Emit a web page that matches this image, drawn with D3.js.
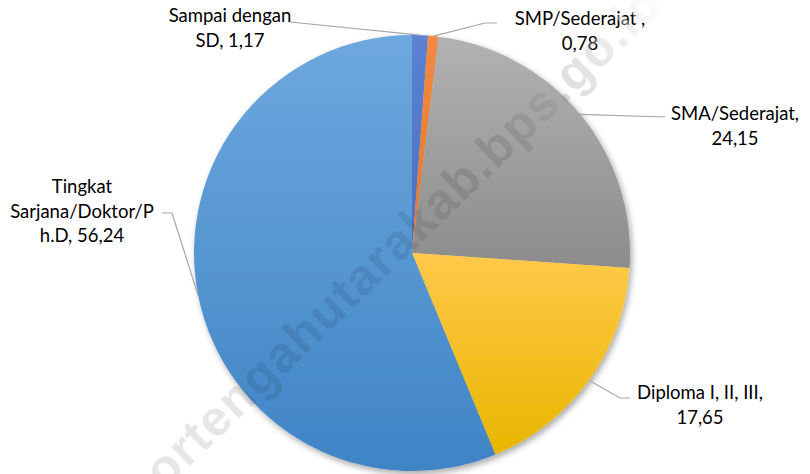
<!DOCTYPE html>
<html>
<head>
<meta charset="utf-8">
<script src="https://cdn.jsdelivr.net/npm/d3@7"></script>
<style>
  body { margin: 0; background: #fff; }
</style>
</head>
<body>
<script>
const width = 810;
const height = 474;

// data
const categories = ["Sampai dengan SD", "SMP/Sederajat", "SMA/Sederajat", "Diploma I, II, III", "Tingkat Sarjana/Doktor/Ph.D"];
const values = [1.17, 0.78, 24.15, 17.65, 56.24];
const labelLines = [
  ["Sampai dengan", "SD, "],
  ["SMP/Sederajat ,", ""],
  ["SMA/Sederajat,", ""],
  ["Diploma I, II, III,", ""],
  ["Tingkat", "Sarjana/Doktor/P", "h.D, "]
];
const colorsTop = ["#5b82d2", "#f28a44", "#b2b2b2", "#ffc94a", "#6ea8de"];
const colorsBottom = ["#4a70c0", "#e57526", "#8c8c8c", "#e8b600", "#3f84c5"];

// label layout: text centre x, first baseline y, elbow point, end of horizontal
const labelPos = [
  { x: 230, y: 22, elbow: [290, 22], end: [290, 22] },
  { x: 580, y: 25, elbow: [485, 23], end: [497, 23] },
  { x: 735, y: 120, elbow: [665, 117], end: [665, 117] },
  { x: 700, y: 399, elbow: [620, 398], end: [630, 398] },
  { x: 82, y: 193, elbow: [172, 213], end: [162, 213] }
];

const cx = 412, cy = 253, r = 218;
const lineGap = 24.5;
const fmt = (v) => v.toFixed(2).replace(".", ",");

const svg = d3.select("body").append("svg")
  .attr("width", width)
  .attr("height", height)
  .style("font-family", "Lato, 'Open Sans', sans-serif");

const defs = svg.append("defs");

categories.forEach((c, i) => {
  const g = defs.append("linearGradient")
    .attr("id", "grad" + i)
    .attr("x1", 0).attr("y1", 0).attr("x2", 0).attr("y2", 1);
  g.append("stop").attr("offset", "0%").attr("stop-color", colorsTop[i]);
  g.append("stop").attr("offset", "100%").attr("stop-color", colorsBottom[i]);
});

const shadow = defs.append("filter").attr("id", "shadow")
  .attr("x", "-10%").attr("y", "-10%").attr("width", "120%").attr("height", "120%");
shadow.append("feDropShadow")
  .attr("dx", 2).attr("dy", 3).attr("stdDeviation", 3)
  .attr("flood-color", "#000").attr("flood-opacity", 0.35);

const wmGrad = defs.append("linearGradient")
  .attr("id", "wmgrad")
  .attr("x1", 0).attr("y1", 0).attr("x2", 1).attr("y2", 0);
wmGrad.append("stop").attr("offset", "0%").attr("stop-color", "#000").attr("stop-opacity", 0.1);
wmGrad.append("stop").attr("offset", "60%").attr("stop-color", "#000").attr("stop-opacity", 0.09);
wmGrad.append("stop").attr("offset", "100%").attr("stop-color", "#fff").attr("stop-opacity", 0.45);

const pie = d3.pie().sort(null).value((d) => d);
const arcs = pie(values);
const arc = d3.arc().innerRadius(0).outerRadius(r);

const chart = svg.append("g").attr("transform", `translate(${cx},${cy})`);

chart.append("g")
  .attr("filter", "url(#shadow)")
  .selectAll("path")
  .data(arcs)
  .enter()
  .append("path")
  .attr("d", arc)
  .attr("fill", (d, i) => `url(#grad${i})`);

// leader lines
const pointOnArc = (d) => {
  const a = (d.startAngle + d.endAngle) / 2;
  return [cx + r * Math.sin(a), cy - r * Math.cos(a)];
};

svg.append("g")
  .selectAll("polyline")
  .data(arcs)
  .enter()
  .append("polyline")
  .attr("points", (d, i) => {
    const p = pointOnArc(d);
    const lp = labelPos[i];
    return [p, lp.elbow, lp.end].map((q) => q.join(",")).join(" ");
  })
  .attr("fill", "none")
  .attr("stroke", "#a6a6a6")
  .attr("stroke-width", 1.2);

// labels
const labels = svg.append("g")
  .selectAll("text")
  .data(arcs)
  .enter()
  .append("text")
  .attr("text-anchor", "middle")
  .attr("font-size", 18.5)
  .attr("fill", "#000");

labels.each(function (d, i) {
  const lines = labelLines[i].slice();
  const last = lines.length - 1;
  lines[last] = lines[last] + fmt(values[i]);
  d3.select(this).selectAll("tspan")
    .data(lines)
    .enter()
    .append("tspan")
    .attr("x", labelPos[i].x)
    .attr("y", (l, j) => labelPos[i].y + j * lineGap)
    .text((l) => l);
});

// watermark
svg.append("text")
  .attr("transform", "translate(107,546) rotate(-44)")
  .attr("font-family", "'Liberation Sans', Arial, sans-serif")
  .attr("font-weight", "bold")
  .attr("font-size", 50)
  .attr("letter-spacing", 1.5)
  .attr("fill", "url(#wmgrad)")
  .text("timortengahutarakab.bps.go.id");
</script>
</body>
</html>
